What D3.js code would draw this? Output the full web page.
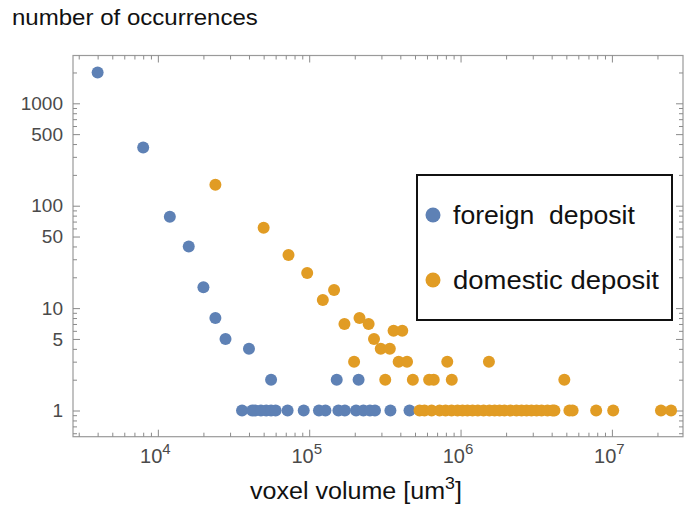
<!DOCTYPE html>
<html>
<head>
<meta charset="utf-8">
<script src="https://cdn.jsdelivr.net/npm/d3@7"></script>
<style>
  html, body { margin: 0; padding: 0; background: #fff; }
  svg { display: block; }
  text { font-family: "Liberation Sans", Arial, sans-serif; }
</style>
</head>
<body>
<div id="chart"></div>
<script>
// ---------- data ----------
const foreignX = [4000, 8000, 12000, 16000, 20000, 24000, 28000, 40000, 56000, 152000, 212000,
  36000, 42000, 44000, 48000, 52000, 56000, 60000, 72000, 92000, 116000, 128000, 156000, 172000,
  204000, 228000, 252000, 272000, 344000, 460000];
const foreignY = [2000, 370, 78, 40, 16, 8, 5, 4, 2, 2, 2,
  1, 1, 1, 1, 1, 1, 1, 1, 1, 1, 1, 1, 1,
  1, 1, 1, 1, 1, 1];

const domesticX = [24000, 50000, 73000, 97000, 123000, 146000, 171000, 215000, 247000, 268000,
  297000, 341000, 361000, 412000,
  198000, 390000, 443000, 817000, 1540000,
  318000, 484000, 620000, 665000, 875000, 4850000,
  536000, 578000, 644000, 727000, 796000, 872000, 955000, 1030000, 1110000, 1200000, 1300000,
  1420000, 1550000, 1680000, 1810000, 1950000, 2140000, 2340000, 2530000, 2730000, 2940000,
  3180000, 3430000, 3750000, 4050000, 4170000, 5240000, 5500000, 7870000, 10200000, 21100000, 24600000];
const domesticY = [160, 61, 33, 22, 12, 15, 7, 8, 7, 5,
  4, 4, 6, 6,
  3, 3, 3, 3, 3,
  2, 2, 2, 2, 2, 2,
  1, 1, 1, 1, 1, 1, 1, 1, 1, 1, 1,
  1, 1, 1, 1, 1, 1, 1, 1, 1, 1,
  1, 1, 1, 1, 1, 1, 1, 1, 1, 1, 1];

const seriesNames = ["foreign  deposit", "domestic deposit"];
const seriesColors = ["#5E81B5", "#E19C24"];

const xMajorTicks = [1e4, 1e5, 1e6, 1e7];
const xMajorExp = ["4", "5", "6", "7"];
const yLabelTicks = [1, 5, 10, 50, 100, 500, 1000];
const yLabelText = ["1", "5", "10", "50", "100", "500", "1000"];

const titleText = "number of occurrences";
const xLabelMain = "voxel volume [um";
const xLabelSup = "3";
const xLabelEnd = "]";

// ---------- layout ----------
const W = 692, H = 508;
const plot = { left: 73, right: 683, top: 55.5, bottom: 436.7 };

const svg = d3.select("#chart").append("svg").attr("width", W).attr("height", H);

const x = d3.scaleLog().domain([2750, 2.95e7]).range([plot.left, plot.right]);
const y = d3.scaleLog().domain([0.555, 2930]).range([plot.bottom, plot.top]);

// minor tick values
function minorTicks(lo, hi) {
  const out = [];
  for (let e = Math.floor(Math.log10(lo)); e <= Math.ceil(Math.log10(hi)); e++) {
    for (let m = 1; m <= 9; m++) {
      const v = m * Math.pow(10, e);
      if (v >= lo && v <= hi) out.push(v);
    }
  }
  return out;
}
const xMinor = minorTicks(2750, 2.95e7).filter(v => !xMajorTicks.includes(v));
const yMinor = minorTicks(0.555, 2930).filter(v => !yLabelTicks.includes(v));

const frameColor = "#9a9a9a";
const tickColor = "#8a8a8a";
const labelColor = "#4a4a4a";

// frame
svg.append("rect")
  .attr("x", plot.left).attr("y", plot.top)
  .attr("width", plot.right - plot.left).attr("height", plot.bottom - plot.top)
  .attr("fill", "none").attr("stroke", frameColor).attr("stroke-width", 1.2);

function styleAxis(g) {
  g.select(".domain").remove();
  g.selectAll(".tick line").attr("stroke", tickColor).attr("stroke-width", 1);
}

// bottom axis (major with labels)
const gx = svg.append("g").attr("transform", `translate(0,${plot.bottom})`)
  .call(d3.axisBottom(x).tickValues(xMajorTicks).tickSizeInner(-7).tickSizeOuter(0).tickPadding(12)
    .tickFormat((d, i) => "10"));
styleAxis(gx);
gx.selectAll(".tick text").each(function (d, i) {
  const t = d3.select(this);
  t.text(null).attr("fill", labelColor).attr("font-size", 20).attr("text-anchor", "middle")
    .attr("dx", -3).attr("font-family", '"Liberation Sans", Arial, sans-serif');
  t.append("tspan").text("10");
  t.append("tspan").attr("font-size", 15).attr("dy", -9).text(xMajorExp[i]);
});
svg.append("g").attr("transform", `translate(0,${plot.bottom})`)
  .call(d3.axisBottom(x).tickValues(xMinor).tickSizeInner(-4).tickSizeOuter(0).tickFormat(""))
  .call(styleAxis);
// top axis
svg.append("g").attr("transform", `translate(0,${plot.top})`)
  .call(d3.axisTop(x).tickValues(xMajorTicks).tickSizeInner(-7).tickSizeOuter(0).tickFormat(""))
  .call(styleAxis);
svg.append("g").attr("transform", `translate(0,${plot.top})`)
  .call(d3.axisTop(x).tickValues(xMinor).tickSizeInner(-4).tickSizeOuter(0).tickFormat(""))
  .call(styleAxis);

// left axis
const gy = svg.append("g").attr("transform", `translate(${plot.left},0)`)
  .call(d3.axisLeft(y).tickValues(yLabelTicks).tickSizeInner(-7).tickSizeOuter(0).tickPadding(10)
    .tickFormat((d, i) => yLabelText[i]));
styleAxis(gy);
gy.selectAll(".tick text").attr("fill", labelColor).attr("font-size", 19)
  .attr("font-family", '"Liberation Sans", Arial, sans-serif');
svg.append("g").attr("transform", `translate(${plot.left},0)`)
  .call(d3.axisLeft(y).tickValues(yMinor).tickSizeInner(-4).tickSizeOuter(0).tickFormat(""))
  .call(styleAxis);
// right axis
svg.append("g").attr("transform", `translate(${plot.right},0)`)
  .call(d3.axisRight(y).tickValues(yLabelTicks).tickSizeInner(-7).tickSizeOuter(0).tickFormat(""))
  .call(styleAxis);
svg.append("g").attr("transform", `translate(${plot.right},0)`)
  .call(d3.axisRight(y).tickValues(yMinor).tickSizeInner(-4).tickSizeOuter(0).tickFormat(""))
  .call(styleAxis);

// points
const clip = svg.append("clipPath").attr("id", "plotclip").append("rect")
  .attr("x", plot.left).attr("y", plot.top)
  .attr("width", plot.right - plot.left).attr("height", plot.bottom - plot.top);

const series = [
  { xs: foreignX, ys: foreignY },
  { xs: domesticX, ys: domesticY }
];
series.forEach((s, si) => {
  svg.append("g").attr("clip-path", "url(#plotclip)")
    .selectAll("circle").data(s.xs.map((v, i) => [v, s.ys[i]])).join("circle")
    .attr("cx", d => x(d[0])).attr("cy", d => y(d[1])).attr("r", 6)
    .attr("fill", seriesColors[si]);
});

// fit text width helper
function fitWidth(sel, px, py, target) {
  const w = sel.node().getBBox().width;
  sel.attr("transform", `translate(${px},${py}) scale(${target / w},1)`);
}

// title
const title = svg.append("text").attr("font-size", 22).attr("fill", "#111").text(titleText);
fitWidth(title, 12, 25, 246);

// x label
const xl = svg.append("text").attr("font-size", 24).attr("fill", "#111");
xl.append("tspan").text(xLabelMain);
xl.append("tspan").attr("font-size", 17).attr("dy", -10).text(xLabelSup);
xl.append("tspan").attr("dy", 10).text(xLabelEnd);
fitWidth(xl, 250, 499, 212);

// legend
const leg = svg.append("g");
leg.append("rect").attr("x", 417).attr("y", 175).attr("width", 255).attr("height", 145)
  .attr("fill", "#fff").attr("stroke", "#111").attr("stroke-width", 2);
const legY = [215, 280];
seriesNames.forEach((name, i) => {
  leg.append("circle").attr("cx", 433).attr("cy", legY[i]).attr("r", 7.5).attr("fill", seriesColors[i]);
  const t = leg.append("text").attr("font-size", 25).attr("fill", "#111")
    .attr("xml:space", "preserve").style("white-space", "pre").text(name);
  fitWidth(t, 453, legY[i] + 9, i === 0 ? 182 : 206);
});
</script>
</body>
</html>
